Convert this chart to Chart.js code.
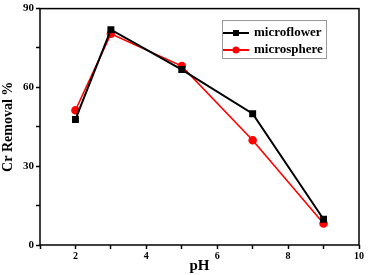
<!DOCTYPE html>
<html lang="en">
  <head>
    <meta charset="UTF-8" />
    <title>Cr removal vs pH</title>
    <script src="https://cdn.jsdelivr.net/npm/chart.js"></script>
    <style>
      html, body { margin: 0; padding: 0; background: #fff; }
      #wrap { width: 368px; height: 275px; }
    </style>
  </head>
  <body>
    <div id="wrap">
      <canvas id="c"></canvas>
    </div>
    <script>
      const pH = [2, 3, 5, 7, 9];
      const microflower = [47.8, 82, 66.8, 50, 9.8];
      const microsphere = [51.3, 80.4, 68.1, 39.9, 8.2];
      const yTicks = [0, 30, 60, 90];
      const xTickLabels = [2, 4, 6, 8, 10];

      const FONT = "'Liberation Serif', 'Times New Roman', serif";

      // box around the plot area
      const frame = {
        id: "frame",
        afterDatasetsDraw(chart) {
          const { ctx, chartArea: a } = chart;
          ctx.save();
          ctx.strokeStyle = "#000";
          ctx.lineWidth = 1.5;
          ctx.strokeRect(a.left, a.top, a.right - a.left, a.bottom - a.top);
          ctx.restore();
        },
      };

      // legend with a grey border, drawn inside the plot
      const boxLegend = {
        id: "boxLegend",
        afterDraw(chart) {
          const { ctx } = chart;
          const x = 222, y = 20, w = 104, h = 38;
          ctx.save();
          ctx.fillStyle = "#fff";
          ctx.fillRect(x, y, w, h);
          ctx.strokeStyle = "#999";
          ctx.lineWidth = 1;
          ctx.strokeRect(x + 0.5, y + 0.5, w, h);
          chart.data.datasets.forEach((ds, i) => {
            const ly = y + 13 + i * 17;
            ctx.strokeStyle = ds.borderColor;
            ctx.lineWidth = 2;
            ctx.beginPath();
            ctx.moveTo(x + 1, ly);
            ctx.lineTo(x + 27, ly);
            ctx.stroke();
            ctx.fillStyle = ds.borderColor;
            if (ds.pointStyle === "rect") {
              ctx.fillRect(x + 11, ly - 3, 6, 6);
            } else {
              ctx.beginPath();
              ctx.arc(x + 14, ly, 3.5, 0, Math.PI * 2);
              ctx.fill();
            }
            ctx.fillStyle = "#000";
            ctx.font = "bold 13px " + FONT;
            ctx.textBaseline = "middle";
            ctx.fillText(ds.label, x + 32, ly);
          });
          ctx.restore();
        },
      };

      new Chart(document.getElementById("c"), {
        type: "line",
        data: {
          datasets: [
            {
              label: "microflower",
              data: pH.map((v, i) => ({ x: v, y: microflower[i] })),
              borderColor: "#000",
              backgroundColor: "#000",
              borderWidth: 2,
              pointStyle: "rect",
              pointRadius: 3.5,
              pointHoverRadius: 3.5,
            },
            {
              label: "microsphere",
              data: pH.map((v, i) => ({ x: v, y: microsphere[i] })),
              borderColor: "#f00",
              backgroundColor: "#f00",
              borderWidth: 1.6,
              pointStyle: "circle",
              pointRadius: 3.5,
              pointHoverRadius: 3.5,
            },
          ],
        },
        options: {
          responsive: true,
          maintainAspectRatio: false,
          animation: false,
          layout: { padding: { top: 8, right: 9, left: 0, bottom: 0 } },
          plugins: { legend: { display: false }, tooltip: { enabled: false } },
          scales: {
            x: {
              type: "linear",
              min: 1,
              max: 10,
              afterFit(s) { s.height = 30; },
              ticks: {
                stepSize: 1,
                autoSkip: false,
                maxRotation: 0,
                padding: 1,
                color: "#000",
                font: { family: FONT, size: 10, weight: "bold" },
                callback: (v) => (xTickLabels.includes(v) ? v : ""),
              },
              grid: {
                drawOnChartArea: false,
                tickLength: 4,
                tickColor: "#000",
                tickWidth: 1.5,
              },
              border: { display: false },
              title: {
                display: true,
                text: "pH",
                color: "#000",
                padding: { top: -4, bottom: 0 },
                font: { family: FONT, size: 15, weight: "bold" },
              },
            },
            y: {
              min: 0,
              max: 90,
              afterFit(s) { s.width = 40; },
              afterBuildTicks(s) {
                s.ticks = [0, 15, 30, 45, 60, 75, 90].map((v) => ({ value: v }));
              },
              ticks: {
                padding: 2,
                color: "#000",
                font: { family: FONT, size: 11, weight: "bold" },
                callback: (v) => (yTicks.includes(v) ? v : ""),
              },
              grid: {
                drawOnChartArea: false,
                tickLength: 4,
                tickColor: "#000",
                tickWidth: 1.5,
              },
              border: { display: false },
              title: {
                display: true,
                text: "Cr Removal %",
                color: "#000",
                padding: { top: 0, bottom: 0 },
                font: { family: FONT, size: 14, weight: "bold" },
              },
            },
          },
        },
        plugins: [frame, boxLegend],
      });
    </script>
  </body>
</html>
